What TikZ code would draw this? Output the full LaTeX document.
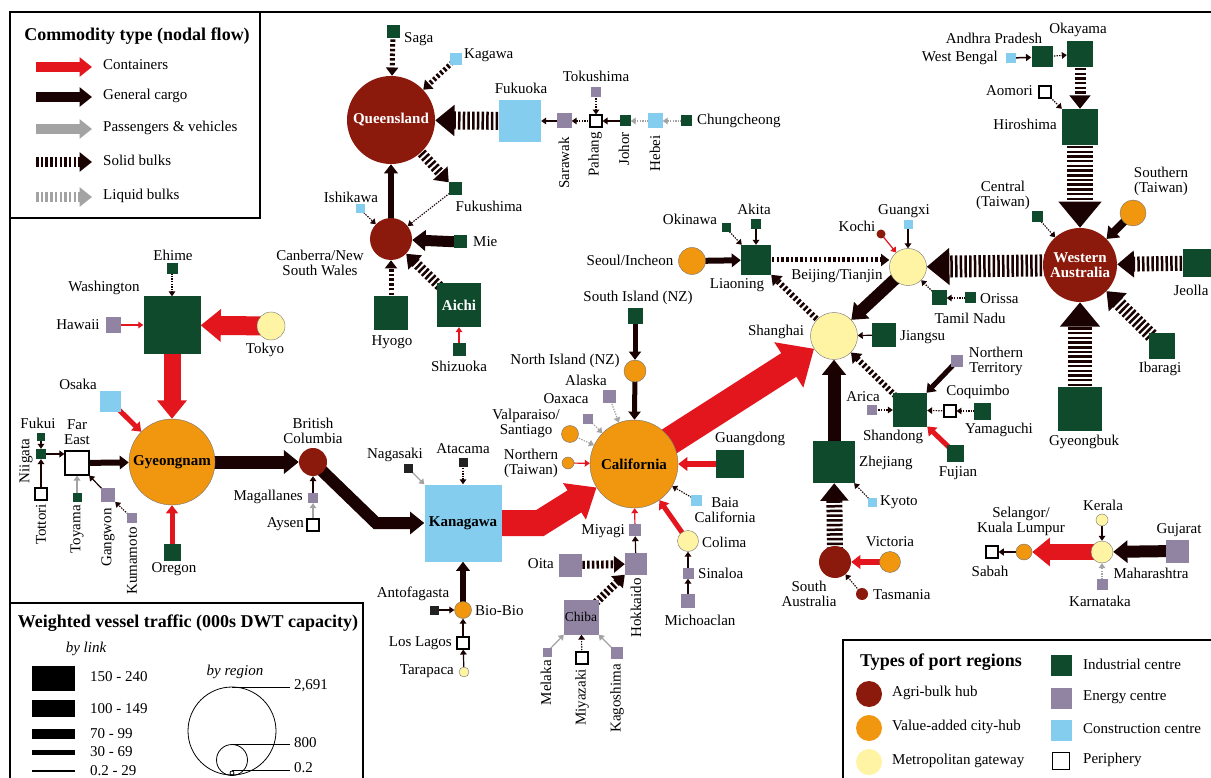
\documentclass[tikz,border=0pt]{standalone}
\usepackage{fontspec}
\setmainfont{Liberation Serif}
\usetikzlibrary{arrows.meta}
\pgfdeclarelayer{bg}
\pgfsetlayers{bg,main}
\definecolor{cind}{HTML}{0F4A2C}
\definecolor{cene}{HTML}{9184A2}
\definecolor{ccon}{HTML}{85CDEF}
\definecolor{cagri}{HTML}{8C1A0C}
\definecolor{cvac}{HTML}{F0960F}
\definecolor{cmet}{HTML}{FFF4A3}
\definecolor{cred}{HTML}{E3161E}
\definecolor{cgen}{HTML}{1A0202}
\definecolor{cpax}{HTML}{A3A3A3}
\definecolor{cblk}{HTML}{222222}
\begin{document}
\begin{tikzpicture}[x=1pt,y=-1pt,
  lbl/.style={font=\fontsize{15}{15}\selectfont, inner sep=0pt, align=center},
  lgd/.style={font=\fontsize{15}{15}\selectfont, inner sep=0pt, anchor=west},
  ttl/.style={font=\fontsize{18}{18}\selectfont\bfseries, inner sep=0pt},
  rlbl/.style={lbl, rotate=90, anchor=east},
  inlbl/.style={font=\fontsize{15}{15}\selectfont\bfseries, align=center},
  sq/.style={rectangle, inner sep=0pt, minimum size=#1},
  ind/.style={sq=#1, fill=cind},
  ene/.style={sq=#1, fill=cene},
  con/.style={sq=#1, fill=ccon},
  per/.style={sq=#1, fill=white, draw=black, line width=1.1pt},
  blk/.style={sq=#1, fill=cblk},
  rd/.style={circle, inner sep=0pt, minimum size=#1},
  agri/.style={rd=#1, fill=cagri},
  vac/.style={rd=#1, fill=cvac, draw=black!55, line width=0.4pt},
  met/.style={rd=#1, fill=cmet, draw=black!55, line width=0.4pt},
  tipA/.style={-{Triangle[width=5pt 1.4, length=4pt 0.85]}, shorten <=-4pt},
  cont/.style={draw=cred, line width=#1, tipA},
  gen/.style={draw=cgen, line width=#1, tipA},
  pax/.style={draw=cpax, line width=#1, tipA},
  sbulk/.style={draw=cgen, line width=#1, dash pattern=on 2.5pt off 2.2pt, tipA},
  lbulk/.style={draw=cpax, line width=#1, dash pattern=on 2.5pt off 2.2pt, tipA},
  sdot/.style={draw=cgen, line width=1.1pt, dash pattern=on 1.4pt off 1.2pt, tipA},
  ldot/.style={draw=cpax, line width=1.2pt, dash pattern=on 1.4pt off 1.2pt, tipA},
]
\useasboundingbox (0,0) rectangle (1211,778);

% ---------------- legends (frames) ----------------
\draw[line width=1.5pt] (10,778) -- (10,12) -- (1211,12);
\draw[line width=1.3pt] (10,12) rectangle (260,218);
\draw[line width=1.3pt] (10,778) -- (10,603) -- (363,603) -- (363,778);
\draw[line width=1.3pt] (843,778) -- (843,640) -- (1211,640);

% commodity legend
\node[ttl] (t1) at (137,36) {Commodity type (nodal flow)};
\coordinate (la1) at (40,67);  \coordinate (lb1) at (92,67);
\coordinate (la2) at (40,97);  \coordinate (lb2) at (92,97);
\coordinate (la3) at (40,129); \coordinate (lb3) at (92,129);
\coordinate (la4) at (40,162); \coordinate (lb4) at (92,162);
\coordinate (la5) at (40,197); \coordinate (lb5) at (92,197);
\node[lgd] (lt1) at (103,65) {Containers};
\node[lgd] (lt2) at (103,96) {General cargo};
\node[lgd] (lt3) at (103,128) {Passengers \& vehicles};
\node[lgd] (lt4) at (103,160) {Solid bulks};
\node[lgd] (lt5) at (103,196) {Liquid bulks};

% vessel traffic legend
\node[ttl] (t2) at (188,623) {Weighted vessel traffic (000s DWT capacity)};
\node[lbl, font=\fontsize{15}{15}\selectfont\itshape] (bylink) at (86,649) {by link};
\fill (32,666) rectangle (75,691);
\fill (32,700) rectangle (75,717);
\fill (32,729) rectangle (75,739);
\fill (32,750) rectangle (75,755);
\fill (32,770) rectangle (75,772);
\node[lgd] (w1) at (90,677) {150 - 240};
\node[lgd] (w2) at (90,709) {100 - 149};
\node[lgd] (w3) at (90,734) {70 - 99};
\node[lgd] (w4) at (90,752) {30 - 69};
\node[lgd] (w5) at (90,771) {0.2 - 29};
\node[lbl, font=\fontsize{15}{15}\selectfont\itshape] (byreg) at (235,672) {by region};
\draw[line width=0.8pt] (232,731) circle[radius=44];
\draw[line width=0.8pt] (232,760) circle[radius=15.5];
\draw[line width=0.8pt] (232,773) circle[radius=2];
\draw[line width=0.8pt] (232,687) -- (290,687);
\draw[line width=0.8pt] (232,744.5) -- (290,744.5);
\draw[line width=0.8pt] (232,770.5) -- (290,770.5);
\node[lgd] (r1) at (294,686) {2,691};
\node[lgd] (r2) at (294,743) {800};
\node[lgd] (r3) at (294,768) {0.2};

% port type legend
\node[ttl] (t3) at (941,662) {Types of port regions};
\node[agri=26pt] (k1) at (869,694) {};
\node[vac=26pt, draw=none] (k2) at (869,728) {};
\node[met=26pt, draw=none] (k3) at (869,762) {};
\node[lgd] (k1t) at (892,693) {Agri-bulk hub};
\node[lgd] (k2t) at (892,727) {Value-added city-hub};
\node[lgd] (k3t) at (892,761) {Metropolitan gateway};
\node[ind=21pt] (k4) at (1061,665) {};
\node[ene=21pt] (k5) at (1061,698) {};
\node[con=21pt] (k6) at (1061,730) {};
\node[per=17pt] (k7) at (1061,761) {};
\node[lgd] (k4t) at (1083,664) {Industrial centre};
\node[lgd] (k5t) at (1083,697) {Energy centre};
\node[lgd] (k6t) at (1083,729) {Construction centre};
\node[lgd] (k7t) at (1083,760) {Periphery};

% ---------------- Queensland cluster ----------------
\node[agri=88pt, text=white, inlbl] (qld) at (391,120) {Queensland};
\node[ind=13pt] (saga) at (393,32) {};
\node[lbl, anchor=west] (lsaga) at (404,39) {Saga};
\node[con=12pt] (kagawa) at (456,59) {};
\node[lbl, anchor=west] (lkagawa) at (464,55) {Kagawa};
\node[con=42pt] (fukuoka) at (520,121) {};
\node[lbl] (lfukuoka) at (521,88) {Fukuoka};
\node[ind=13pt] (fukushima) at (455,189) {};
\node[lbl] (lfukushima) at (489,206) {Fukushima};
\node[con=9pt] (ishikawa) at (360,209) {};
\node[lbl] (lishikawa) at (351,197) {Ishikawa};
\node[agri=42pt] (cnsw) at (391,239) {};
\node[lbl] (lcnsw) at (320,263) {Canberra/New\\South Wales};
\node[ind=13pt] (mie) at (460,242) {};
\node[lbl, anchor=west] (lmie) at (473,242) {Mie};
\node[ind=34pt] (hyogo) at (391,313) {};
\node[lbl] (lhyogo) at (392,342) {Hyogo};
\node[ind=44pt, text=white, inlbl] (aichi) at (459,305) {Aichi};
\node[ind=13pt] (shizuoka) at (459,349) {};
\node[lbl] (lshizuoka) at (459,366) {Shizuoka};

% Fukuoka chain
\node[ene=15pt] (sarawak) at (564,121) {};
\node[rlbl] (lsarawak) at (564,137) {Sarawak};
\node[per=12pt] (pahang) at (596,121) {};
\node[rlbl] (lpahang) at (595,132) {Pahang};
\node[ene=10pt] (tokushima) at (596,92) {};
\node[lbl] (ltokushima) at (596,76) {Tokushima};
\node[ind=11pt] (johor) at (625,121) {};
\node[rlbl] (ljohor) at (624,132) {Johor};
\node[con=15pt] (hebei) at (655,121) {};
\node[rlbl] (lhebei) at (655,135) {Hebei};
\node[ind=11pt] (chung) at (686,121) {};
\node[lbl, anchor=west] (lchung) at (697,121) {Chungcheong};

% ---------------- top right ----------------
\node[ind=21pt] (ap) at (1042,57) {};
\node[lbl] (lap) at (994,38) {Andhra Pradesh};
\node[con=10pt] (wb) at (1011,58) {};
\node[lbl, anchor=east] (lwb) at (998,58) {West Bengal};
\node[ind=26pt] (okayama) at (1080,54) {};
\node[lbl] (lokayama) at (1078,30) {Okayama};
\node[per=12pt] (aomori) at (1045,92) {};
\node[lbl, anchor=east] (laomori) at (1033,91) {Aomori};
\node[ind=36pt] (hiroshima) at (1080,127) {};
\node[lbl, anchor=east] (lhiroshima) at (1057,124) {Hiroshima};
\node[ind=11pt] (central) at (1037,217) {};
\node[lbl] (lcentral) at (1003,195) {Central\\(Taiwan)};
\node[vac=26pt] (southern) at (1133,213) {};
\node[lbl] (lsouthern) at (1161,181) {Southern\\(Taiwan)};
\node[agri=74pt, text=white, inlbl] (wa) at (1080,265) {Western\\Australia};
\node[ind=28pt] (jeolla) at (1197,263) {};
\node[lbl] (ljeolla) at (1191,290) {Jeolla};
\node[ind=26pt] (ibaragi) at (1162,346) {};
\node[lbl] (libaragi) at (1160,369) {Ibaragi};
\node[ind=44pt] (gyeongbuk) at (1080,409) {};
\node[lbl] (lgyeongbuk) at (1084,442) {Gyeongbuk};

% Beijing / Liaoning / Shanghai
\node[met=37pt] (bj) at (908,267) {};
\node[lbl] (lbj) at (837,276) {Beijing/Tianjin};
\node[agri=9pt] (kochi) at (881,234) {};
\node[lbl] (lkochi) at (857,226) {Kochi};
\node[con=9pt] (guangxi) at (908,225) {};
\node[lbl] (lguangxi) at (904,211) {Guangxi};
\node[ind=15pt] (tamil) at (939,298) {};
\node[lbl] (ltamil) at (970,318) {Tamil Nadu};
\node[ind=11pt] (orissa) at (970,298) {};
\node[lbl, anchor=west] (lorissa) at (980,299) {Orissa};
\node[ind=30pt] (liaoning) at (756,260) {};
\node[lbl] (lliaoning) at (737,285) {Liaoning};
\node[vac=27pt] (seoul) at (692,261) {};
\node[lbl] (lseoul) at (630,260) {Seoul/Incheon};
\node[ind=9pt] (okinawa) at (726,228) {};
\node[lbl] (lokinawa) at (690,219) {Okinawa};
\node[ind=10pt] (akita) at (756,224) {};
\node[lbl] (lakita) at (754,209) {Akita};
\node[met=47pt] (sha) at (834,336) {};
\node[lbl] (lsha) at (776,332) {Shanghai};
\node[ind=24pt] (jiangsu) at (884,335) {};
\node[lbl, anchor=west] (ljiangsu) at (900,337) {Jiangsu};

% Shandong / Zhejiang
\node[ind=34pt] (shandong) at (910,410) {};
\node[lbl] (lshandong) at (893,437) {Shandong};
\node[ene=10pt] (arica) at (872,410) {};
\node[lbl] (larica) at (863,397) {Arica};
\node[ene=12pt] (nt) at (957,361) {};
\node[lbl] (lnt) at (996,361) {Northern\\Territory};
\node[per=12pt] (coquimbo) at (950,411) {};
\node[lbl] (lcoquimbo) at (978,392) {Coquimbo};
\node[ind=17pt] (yamaguchi) at (982,411) {};
\node[lbl] (lyamaguchi) at (999,430) {Yamaguchi};
\node[ind=17pt] (fujian) at (955,453) {};
\node[lbl] (lfujian) at (958,473) {Fujian};
\node[ind=42pt] (zhejiang) at (834,462) {};
\node[lbl, anchor=west] (lzhejiang) at (859,463) {Zhejiang};
\node[con=9pt] (kyoto) at (872,502) {};
\node[lbl, anchor=west] (lkyoto) at (880,502) {Kyoto};
\node[agri=32pt] (sa) at (835,562) {};
\node[lbl] (lsa) at (809,594) {South\\Australia};
\node[vac=21pt] (victoria) at (890,562) {};
\node[lbl] (lvictoria) at (890,542) {Victoria};
\node[agri=12pt] (tasmania) at (862,594) {};
\node[lbl, anchor=west] (ltasmania) at (873,595) {Tasmania};

% Maharashtra group
\node[met=22pt] (maha) at (1102,552) {};
\node[lbl] (lmaha) at (1151,573) {Maharashtra};
\node[ene=23pt] (gujarat) at (1177,551) {};
\node[lbl] (lgujarat) at (1179,530) {Gujarat};
\node[met=12pt] (kerala) at (1102,520) {};
\node[lbl] (lkerala) at (1103,505) {Kerala};
\node[ene=11pt] (karnataka) at (1102,584) {};
\node[lbl] (lkarnataka) at (1100,601) {Karnataka};
\node[vac=16pt] (selangor) at (1024,552) {};
\node[lbl] (lselangor) at (1021,521) {Selangor/\\Kuala Lumpur};
\node[per=12pt] (sabah) at (992,552) {};
\node[lbl] (lsabah) at (990,571) {Sabah};

% ---------------- Gyeongnam cluster ----------------
\node[vac=86pt, inlbl] (gyeongnam) at (172,462) {Gyeongnam};
\node[ind=57pt] (washington) at (172,325) {};
\node[lbl] (lwashington) at (104,288) {Washington};
\node[ind=11pt] (ehime) at (172,269) {};
\node[lbl] (lehime) at (173,255) {Ehime};
\node[ene=15pt] (hawaii) at (113,325) {};
\node[lbl] (lhawaii) at (78,325) {Hawaii};
\node[met=28pt] (tokyo) at (271,326) {};
\node[lbl] (ltokyo) at (265,350) {Tokyo};
\node[con=21pt] (osaka) at (110,401) {};
\node[lbl] (losaka) at (78,384) {Osaka};
\node[per=24pt] (fareast) at (77,463) {};
\node[lbl] (lfareast) at (77,432) {Far\\East};
\node[ind=10pt] (niigata) at (41,454) {};
\node[lbl, rotate=90] (lniigata) at (26,461) {Niigata};
\node[ind=8pt] (fukui) at (41,437) {};
\node[lbl] (lfukui) at (38,423) {Fukui};
\node[per=12pt] (tottori) at (41,494) {};
\node[rlbl] (ltottori) at (41,504) {Tottori};
\node[ind=9pt] (toyama) at (77,497) {};
\node[rlbl] (ltoyama) at (77,505) {Toyama};
\node[ene=14pt] (gangwon) at (108,495) {};
\node[rlbl] (lgangwon) at (108,508) {Gangwon};
\node[ene=10pt] (kumamoto) at (132,518) {};
\node[rlbl] (lkumamoto) at (132,527) {Kumamoto};
\node[ind=17pt] (oregon) at (172,552) {};
\node[lbl] (loregon) at (174,569) {Oregon};
\node[agri=28pt] (bc) at (313,462) {};
\node[lbl] (lbc) at (313,431) {British\\Columbia};
\node[ene=10pt] (magallanes) at (313,498) {};
\node[lbl, anchor=east] (lmagallanes) at (303,497) {Magallanes};
\node[per=12pt] (aysen) at (313,525) {};
\node[lbl, anchor=east] (laysen) at (304,524) {Aysen};

% ---------------- Kanagawa cluster ----------------
\node[con=77pt, inlbl] (kanagawa) at (463,523) {Kanagawa};
\node[blk=9pt] (nagasaki) at (408,468) {};
\node[lbl] (lnagasaki) at (395,455) {Nagasaki};
\node[blk=9pt] (atacama) at (463,462) {};
\node[lbl] (latacama) at (463,449) {Atacama};
\node[vac=17pt] (biobio) at (463,610) {};
\node[lbl, anchor=west] (lbiobio) at (475,611) {Bio-Bio};
\node[blk=9pt] (antofagasta) at (434,610) {};
\node[lbl] (lantofagasta) at (413,594) {Antofagasta};
\node[per=12pt] (loslagos) at (463,643) {};
\node[lbl, anchor=east] (lloslagos) at (452,643) {Los Lagos};
\node[met=10pt] (tarapaca) at (464,672) {};
\node[lbl, anchor=east] (ltarapaca) at (454,671) {Tarapaca};

% ---------------- California cluster ----------------
\node[vac=88pt, inlbl] (cal) at (634,464) {California};
\node[ind=15pt] (si) at (635,316) {};
\node[lbl] (lsi) at (638,298) {South Island (NZ)};
\node[vac=22pt] (ni) at (635,371) {};
\node[lbl] (lni) at (565,361) {North Island (NZ)};
\node[ene=13pt] (alaska) at (609,396) {};
\node[lbl] (lalaska) at (586,380) {Alaska};
\node[ene=10pt] (oaxaca) at (588,419) {};
\node[lbl] (loaxaca) at (566,399) {Oaxaca};
\node[vac=17pt] (valpo) at (570,434) {};
\node[lbl] (lvalpo) at (526,423) {Valparaiso/\\Santiago};
\node[vac=12pt] (ntw) at (568,463) {};
\node[lbl] (lntw) at (531,463) {Northern\\(Taiwan)};
\node[ind=28pt] (guangdong) at (730,464) {};
\node[lbl] (lguangdong) at (750,439) {Guangdong};
\node[con=11pt] (baia) at (696,500) {};
\node[lbl] (lbaia) at (725,510) {Baia\\California};
\node[met=21pt] (colima) at (688,541) {};
\node[lbl, anchor=west] (lcolima) at (702,542) {Colima};
\node[ene=11pt] (sinaloa) at (688,573) {};
\node[lbl, anchor=west] (lsinaloa) at (698,573) {Sinaloa};
\node[ene=14pt] (michoaclan) at (688,601) {};
\node[lbl] (lmichoaclan) at (700,620) {Michoaclan};
\node[ene=12pt] (miyagi) at (635,530) {};
\node[lbl, anchor=east] (lmiyagi) at (625,531) {Miyagi};
\node[ene=22pt] (hokkaido) at (636,564) {};
\node[rlbl] (lhokkaido) at (636,578) {Hokkaido};
\node[ene=23pt] (oita) at (570,565) {};
\node[lbl, anchor=east] (loita) at (554,564) {Oita};
\node[ene=35pt, font=\fontsize{13.5}{14}\selectfont] (chiba) at (581,617) {Chiba};
\node[ene=9pt] (melaka) at (547,652) {};
\node[rlbl] (lmelaka) at (546,660) {Melaka};
\node[per=12pt] (miyazaki) at (582,658) {};
\node[rlbl] (lmiyazaki) at (582,669) {Miyazaki};
\node[ene=12pt] (kagoshima) at (617,653) {};
\node[rlbl] (lkagoshima) at (617,664) {Kagoshima};

% ---------------- connectors (behind nodes) ----------------
\begin{pgfonlayer}{bg}
\fill[white] (0,0) rectangle (1211,778);
% legend arrows
\draw[cont=10pt] (la1) -- (lb1);
\draw[gen=10pt] (la2) -- (lb2);
\draw[pax=10pt] (la3) -- (lb3);
\draw[sbulk=10pt] (la4) -- (lb4);
\draw[lbulk=10pt] (la5) -- (lb5);
% Queensland
\draw[sbulk=5pt] (saga) -- (qld);
\draw[sbulk=5pt] (kagawa) -- (qld);
\draw[sbulk=18pt] (fukuoka) -- (qld);
\draw[sbulk=10pt] (qld) -- (fukushima);
\draw[sdot] (ishikawa) -- (cnsw);
\draw[sdot] (fukushima) -- (cnsw);
\draw[gen=6pt] (cnsw) -- (qld);
\draw[gen=11pt] (mie) -- (cnsw);
\draw[sbulk=5pt] (hyogo) -- (cnsw);
\draw[sbulk=10pt] (aichi) -- (cnsw);
\draw[cont=1.2pt] (shizuoka) -- (aichi);
\draw[gen=1.2pt] (sarawak) -- (fukuoka);
\draw[sdot] (pahang) -- (sarawak);
\draw[sdot] (tokushima) -- (pahang);
\draw[gen=1.2pt] (johor) -- (pahang);
\draw[ldot] (hebei) -- (johor);
\draw[ldot] (chung) -- (hebei);
% top right
\draw[gen=1.5pt] (wb) -- (ap);
\draw[sdot] (ap) -- (okayama);
\draw[sbulk=11pt] (okayama) -- (hiroshima);
\draw[sdot] (aomori) -- (hiroshima);
\draw[sbulk=26pt] (hiroshima) -- (wa);
\draw[sdot] (central) -- (wa);
\draw[gen=8pt] (southern) -- (wa);
\draw[sbulk=15pt] (jeolla) -- (wa);
\draw[sbulk=14pt] (ibaragi) -- (wa);
\draw[sbulk=24pt] (gyeongbuk) -- (wa);
\draw[sbulk=22pt] (wa) -- (bj);
% Beijing / Liaoning / Shanghai
\draw[cont=1.2pt] (kochi) -- (bj);
\draw[gen=1.2pt] (guangxi) -- (bj);
\draw[sdot] (tamil) -- (bj);
\draw[sdot] (orissa) -- (tamil);
\draw[sbulk=5pt] (liaoning.east) -- (liaoning -| bj.west);
\draw[gen=6pt] (seoul) -- (liaoning);
\draw[sdot] (okinawa) -- (liaoning);
\draw[gen=1.2pt] (akita) -- (liaoning);
\draw[sbulk=6pt] (sha) -- (liaoning);
\draw[gen=12pt] (bj) -- (sha);
\draw[gen=1.2pt] (jiangsu) -- (sha);
% Shandong / Zhejiang
\draw[sbulk=6pt] (shandong) -- (sha);
\draw[sdot] (arica) -- (shandong);
\draw[gen=5pt] (nt) -- (shandong);
\draw[sdot] (coquimbo) -- (shandong);
\draw[sdot] (yamaguchi) -- (coquimbo);
\draw[cont=5pt] (fujian) -- (shandong);
\draw[gen=13pt] (zhejiang) -- (sha);
\draw[sdot] (kyoto) -- (zhejiang);
\draw[sbulk=16pt] (sa) -- (zhejiang);
\draw[cont=6pt] (victoria) -- (sa);
\draw[sdot] (tasmania) -- (sa);
% Maharashtra
\draw[gen=12pt] (gujarat) -- (maha);
\draw[gen=1.2pt] (kerala) -- (maha);
\draw[ldot] (karnataka) -- (maha);
\draw[cont=16pt] (maha) -- (selangor);
\draw[gen=1.5pt] (selangor) -- (sabah);
% Gyeongnam
\draw[sdot] (ehime) -- (washington);
\draw[cont=1.2pt] (hawaii) -- (washington);
\draw[cont=19pt] (tokyo) -- (washington);
\draw[cont=17pt] (washington) -- (gyeongnam);
\draw[cont=5pt] (osaka) -- (gyeongnam);
\draw[gen=6pt] (fareast) -- (gyeongnam);
\draw[gen=1.2pt] (niigata.east) -- (niigata -| fareast.west);
\draw[gen=1.2pt] (fukui) -- (niigata);
\draw[gen=1.2pt] (tottori) -- (niigata);
\draw[pax=1.2pt] (toyama) -- (fareast);
\draw[gen=1.2pt] (gangwon) -- (fareast);
\draw[sdot] (kumamoto) -- (gangwon);
\draw[cont=5pt] (oregon) -- (gyeongnam);
\draw[gen=13pt] (gyeongnam) -- (bc);
\draw[gen=1.2pt] (magallanes) -- (bc);
\draw[pax=1.2pt] (aysen) -- (magallanes);
\draw[gen=12pt] (bc) -- (376,523) -- (kanagawa);
% Kanagawa
\draw[pax=1.2pt] (nagasaki) -- (kanagawa);
\draw[sdot] (atacama) -- (kanagawa);
\draw[gen=6pt] (biobio) -- (kanagawa);
\draw[gen=1.2pt] (antofagasta) -- (biobio);
\draw[gen=1.2pt] (loslagos) -- (biobio);
\draw[gen=1.2pt] (tarapaca) -- (loslagos);
\draw[cont=26pt] (kanagawa) -- (540,523) -- (cal);
% California
\draw[gen=5pt] (si) -- (ni);
\draw[gen=5pt] (ni) -- (cal);
\draw[ldot] (alaska) -- (cal);
\draw[ldot] (oaxaca) -- (cal);
\draw[ldot] (valpo) -- (cal);
\draw[cont=1.2pt] (ntw) -- (cal);
\draw[cont=6pt] (guangdong) -- (cal);
\draw[sdot] (baia) -- (cal);
\draw[cont=5pt] (colima) -- (cal);
\draw[gen=1.2pt] (sinaloa) -- (colima);
\draw[gen=1.2pt] (michoaclan) -- (sinaloa);
\draw[cont=1.2pt] (miyagi) -- (cal);
\draw[gen=1.2pt] (hokkaido) -- (miyagi);
\draw[sbulk=8pt] (oita) -- (hokkaido);
\draw[sbulk=8pt] (chiba) -- (hokkaido);
\draw[pax=1.2pt] (melaka) -- (chiba);
\draw[sdot] (miyazaki) -- (chiba);
\draw[pax=1.2pt] (kagoshima) -- (chiba);
\draw[cont=28pt, -{Triangle[width=52pt, length=30pt]}] (cal) -- (sha);
\end{pgfonlayer}
\end{tikzpicture}
\end{document}
